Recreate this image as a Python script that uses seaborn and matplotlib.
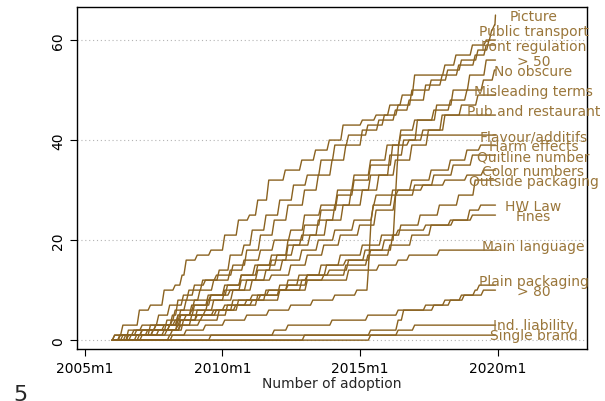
import matplotlib
matplotlib.use("Agg")
import matplotlib.pyplot as plt
import numpy as np
import pandas as pd
import seaborn as sns

# cumulative number of countries having adopted each measure (steps)
names = ["Picture", "Public transport", "Font regulation", "> 50", "No obscure",
         "Misleading terms", "Pub and restaurant", "Flavour/additifs", "Harm effects",
         "Quitline number", "Color numbers", "Outside packaging", "HW Law", "Fines",
         "Main language", "Plain packaging", "> 80", "Ind. liability", "Single brand"]

step_years = [
    [2006.0, 2006.3, 2006.9, 2007.3, 2007.8, 2008.2, 2008.45, 2008.6, 2009.0, 2009.5, 2010.0, 2010.5, 2010.9,
     2011.2, 2011.6, 2012.2, 2012.8, 2013.3, 2013.8, 2014.3, 2015.0, 2015.5, 2016.0, 2016.45, 2016.9, 2018.0,
     2018.4, 2019.0, 2019.5, 2019.7, 2019.8, 2019.9],
    [2006.5, 2007.0, 2007.6, 2008.0, 2008.5, 2008.9, 2009.3, 2009.8, 2010.2, 2010.7, 2011.0, 2011.5, 2012.0,
     2012.5, 2013.0, 2013.5, 2014.0, 2014.5, 2015.2, 2015.8, 2016.3, 2016.8, 2017.5, 2018.1, 2018.6, 2019.2, 2019.6],
    [2006.2, 2006.8, 2007.5, 2008.1, 2008.3, 2008.7, 2009.2, 2009.7, 2010.3, 2010.8, 2011.3, 2011.8, 2012.3,
     2012.9, 2013.4, 2013.9, 2014.4, 2015.0, 2015.6, 2016.2, 2016.7, 2017.3, 2017.9, 2018.5, 2019.1, 2019.5],
    [2006.5, 2007.4, 2008.0, 2008.4, 2008.8, 2009.4, 2010.0, 2010.6, 2011.2, 2011.7, 2012.3, 2012.8, 2013.4,
     2014.0, 2014.6, 2015.3, 2016.0, 2016.5, 2017.0, 2017.7, 2018.3, 2018.9, 2019.5],
    [2006.3, 2007.0, 2007.9, 2008.2, 2008.6, 2009.1, 2009.6, 2010.2, 2010.7, 2011.3, 2011.8, 2012.4, 2012.9,
     2013.5, 2014.1, 2014.7, 2015.3, 2015.9, 2016.4, 2016.9, 2017.6, 2018.2, 2018.8, 2019.4, 2019.8],
    [2006.6, 2007.3, 2008.1, 2008.4, 2008.9, 2009.5, 2010.1, 2010.6, 2011.2, 2011.9, 2012.5, 2013.1, 2013.7,
     2014.3, 2015.0, 2015.6, 2016.2, 2016.8, 2017.4, 2018.0, 2018.6, 2019.2],
    [2006.2, 2007.0, 2007.8, 2008.3, 2008.8, 2009.4, 2010.0, 2010.6, 2011.1, 2011.7, 2012.3, 2012.9, 2013.5,
     2014.1, 2014.7, 2015.3, 2016.1, 2016.7, 2017.2, 2017.9],
    [2006.8, 2008.1, 2008.5, 2009.0, 2009.7, 2010.3, 2011.0, 2011.6, 2012.3, 2013.0, 2013.7, 2014.4, 2015.1,
     2015.8, 2016.2, 2016.25, 2016.3, 2016.35, 2016.4],
    [2006.4, 2007.2, 2008.0, 2008.3, 2008.9, 2009.5, 2010.2, 2010.8, 2011.5, 2012.1, 2012.8, 2013.4, 2014.0,
     2014.7, 2015.4, 2016.1, 2016.8, 2017.5, 2018.2, 2018.8, 2019.3],
    [2007.0, 2007.8, 2008.4, 2009.0, 2009.6, 2010.3, 2011.0, 2011.7, 2012.4, 2013.0, 2013.6, 2014.2, 2014.9,
     2015.5, 2016.2, 2016.9, 2017.6, 2018.3, 2019.0],
    [2008.1, 2008.6, 2009.3, 2010.0, 2010.8, 2011.6, 2012.4, 2013.2, 2014.0, 2014.8, 2015.25, 2015.3, 2015.35,
     2015.4, 2015.5, 2016.3, 2017.2, 2018.0, 2018.8, 2019.4],
    [2006.9, 2007.9, 2008.4, 2009.1, 2009.8, 2010.5, 2011.3, 2012.0, 2012.7, 2013.5, 2014.2, 2015.0, 2015.7,
     2016.4, 2017.1, 2017.8, 2018.5, 2019.1],
    [2006.0, 2006.7, 2007.5, 2008.2, 2008.6, 2009.3, 2010.0, 2010.8, 2011.5, 2012.3, 2013.0, 2013.8, 2014.5,
     2015.3, 2016.1, 2016.3, 2017.3, 2018.3, 2018.9, 2019.3],
    [2006.2, 2007.4, 2008.3, 2008.8, 2009.6, 2010.4, 2011.2, 2012.0, 2012.8, 2013.6, 2014.4, 2015.2, 2016.0,
     2016.8, 2017.5, 2018.2, 2019.0],
    [2006.5, 2007.6, 2008.3, 2009.2, 2010.1, 2011.0, 2012.0, 2013.0, 2014.5, 2015.6, 2016.3, 2016.7, 2017.8],
    [2012.9, 2015.3, 2016.3, 2016.5, 2017.6, 2018.2, 2018.7, 2019.1, 2019.25],
    [2008.0, 2011.8, 2012.3, 2013.9, 2015.2, 2016.3, 2017.3, 2018.0, 2018.6, 2019.4],
    [2015.3, 2016.3, 2016.9],
    [2009.5],
]

step_counts = [
    [1, 3, 6, 7, 10, 11, 13, 16, 17, 18, 21, 24, 25, 28, 32, 34, 36, 38, 40, 43, 44, 45, 47, 49, 53, 55,
     57, 59, 60, 62, 63, 65],
    [2, 3, 5, 7, 9, 11, 12, 14, 17, 19, 22, 25, 28, 31, 33, 36, 39, 41, 43, 45, 47, 50, 52, 54, 56, 58, 60],
    [1, 2, 3, 5, 8, 10, 12, 13, 15, 18, 21, 24, 27, 30, 33, 36, 39, 42, 44, 46, 48, 51, 53, 55, 57, 59],
    [1, 2, 3, 5, 6, 8, 10, 12, 14, 16, 19, 21, 24, 27, 30, 33, 37, 40, 44, 47, 50, 53, 56],
    [1, 2, 4, 6, 8, 10, 12, 14, 16, 18, 20, 22, 25, 27, 30, 33, 36, 39, 42, 44, 46, 48, 50, 52, 54],
    [1, 3, 4, 6, 8, 9, 11, 13, 15, 17, 19, 21, 24, 27, 30, 33, 36, 39, 42, 45, 47, 49],
    [1, 2, 3, 5, 7, 9, 11, 13, 15, 17, 20, 23, 26, 29, 32, 35, 39, 40, 42, 45],
    [1, 2, 4, 5, 6, 8, 9, 10, 12, 13, 15, 16, 18, 20, 25, 30, 35, 39, 41],
    [1, 2, 3, 5, 7, 9, 10, 12, 14, 16, 18, 20, 22, 24, 27, 30, 32, 34, 36, 38, 39],
    [1, 2, 4, 6, 8, 10, 12, 13, 15, 17, 19, 21, 23, 26, 29, 31, 33, 35, 37],
    [1, 2, 3, 4, 5, 6, 7, 8, 9, 10, 14, 19, 24, 27, 29, 30, 31, 32, 33, 34],
    [1, 2, 3, 4, 6, 8, 9, 11, 13, 15, 17, 19, 21, 23, 25, 27, 29, 32],
    [1, 2, 3, 4, 5, 6, 7, 8, 10, 11, 13, 14, 16, 18, 21, 22, 23, 24, 26, 27],
    [1, 2, 3, 5, 6, 7, 9, 10, 12, 13, 15, 17, 19, 21, 23, 24, 25],
    [1, 2, 4, 5, 7, 8, 10, 12, 14, 15, 16, 17, 18],
    [1, 2, 4, 6, 7, 8, 9, 10, 11],
    [1, 2, 3, 4, 5, 6, 7, 8, 9, 10],
    [1, 2, 3],
    [1],
]

label_y = [64.8, 61.8, 58.8, 55.8, 53.8, 49.8, 45.8, 40.8, 38.8, 36.8, 33.8, 31.8,
           26.8, 24.8, 18.8, 11.8, 9.8, 3.0, 1.0]

start_year = 2006.0
end_year = 2019.92
xticks = [2005, 2010, 2015, 2020]
xtick_labels = ["2005m1", "2010m1", "2015m1", "2020m1"]
yticks = [0, 20, 40, 60]

# monthly series: a jump is drawn from one month to the next
month = 1 / 12
rows = []
for name, yrs, cnts in zip(names, step_years, step_counts):
    rows.append({"series": name, "year": start_year, "count": 0})
    prev = 0
    for i, (t, c) in enumerate(zip(yrs, cnts)):
        nxt = yrs[i + 1] if i + 1 < len(yrs) else end_year
        w = min(month, nxt - t)
        rows.append({"series": name, "year": t, "count": prev})
        rows.append({"series": name, "year": t + w, "count": c})
        prev = c
    rows.append({"series": name, "year": end_year, "count": prev})
df = pd.DataFrame(rows)

sns.set_style("ticks")
plt.rcParams["font.family"] = ["DejaVu Sans"]

line_col = "#8a6220"
text_col = "#9a763a"

fig = plt.figure(figsize=(6.05, 4.02), dpi=100)
ax = fig.add_axes([0.127, 0.129, 0.843, 0.851])

for y in yticks:
    ax.axhline(y, color="#b4b4b4", lw=0.8, ls=(0, (1, 2.5)), zorder=0)

sns.lineplot(data=df, x="year", y="count", units="series", estimator=None, sort=False,
             color=line_col, lw=1.0, ax=ax, legend=False)

for name, ly in zip(names, label_y):
    ax.text(2021.3, ly, name, color=text_col, fontsize=10, ha="center", va="center")

ax.set_xlim(2004.71, 2023.24)
ax.set_ylim(-1.8, 66.6)
ax.set_xticks(xticks)
ax.set_xticklabels(xtick_labels)
ax.set_yticks(yticks)
ax.set_yticklabels([str(v) for v in yticks], rotation=90, va="center")
ax.tick_params(axis="both", labelsize=10, length=5, width=0.8, colors="black")
ax.set_xlabel("Number of adoption", fontsize=10, labelpad=1)
ax.set_ylabel("")
for sp in ax.spines.values():
    sp.set_visible(True)
    sp.set_color("black")
    sp.set_linewidth(1.0)

fig.text(13 / 605, 1 - 385 / 402, "5", fontsize=16, va="top", ha="left",
         family=["Liberation Sans Narrow", "DejaVu Sans"])

fig.savefig("out.png", dpi=100)
